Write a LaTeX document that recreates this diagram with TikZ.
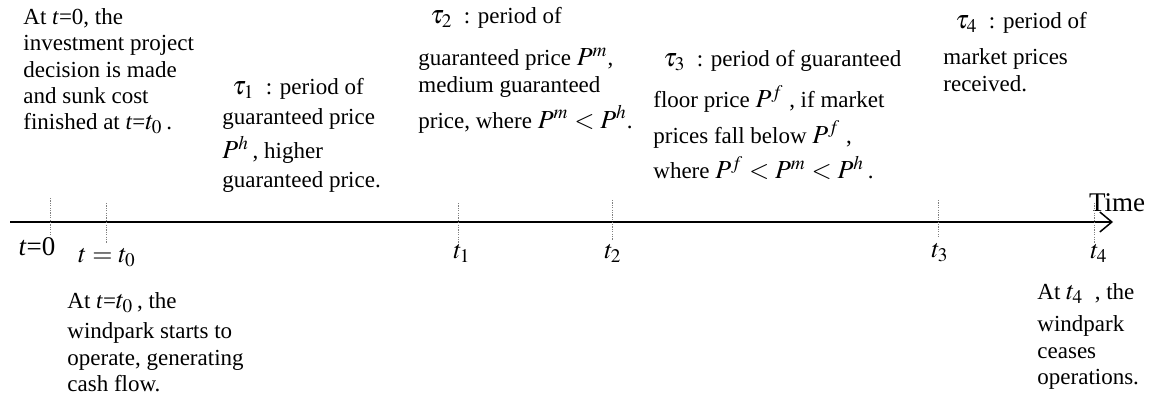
\documentclass[tikz,border=0pt]{standalone}
\usepackage{mathptmx}
\usepackage[no-math]{fontspec}
\setmainfont{Liberation Serif}
\usetikzlibrary{arrows.meta,positioning}

\newcommand{\eqpart}[1]{{\fontsize{13}{13}\selectfont$#1$}}

\tikzset{
  note/.style={align=left, anchor=north west, inner sep=0pt, font=\fontsize{11.5}{13.2}\selectfont},
  ticklabel/.style={inner sep=0pt, font=\fontsize{13}{13}\selectfont},
  tickline/.style={gray, line width=0.5pt, dash pattern=on 0.6pt off 0.6pt},
  timeline/.style={line width=0.75pt, -{Straight Barb[length=6pt,width=10pt]}}
}

\begin{document}
\begin{tikzpicture}[x=0.5pt, y=-0.5pt]
  \useasboundingbox (0,0) rectangle (1150,407);
  % time axis
  \coordinate (axisstart) at (10,222);
  \coordinate (axisend) at (1113,222);
  \draw[timeline] (axisstart) -- (axisend);
  \node[ticklabel, font=\fontsize{13.5}{13}\selectfont] (timelbl) at (1117,203) {Time};
  % dotted marks on the axis
  \foreach \name/\x/\ya/\yb in {z/50/198/235, a/106/203/243, b/458/203/243,
      c/612/200/240, d/938/200/238, e/1094/203/243} {
    \coordinate (\name top) at (\x,\ya);
    \coordinate (\name bot) at (\x,\yb);
    \draw[tickline] (\name top) -- (\name bot);
  }
  % labels under the marks
  \node[ticklabel, font=\fontsize{13.5}{13}\selectfont] (lblz) at (37,247) {\textit{t}=0};
  \node[ticklabel] (lbla) at (107,258) {$t=t_{0}$};
  \node[ticklabel] (lblb) at (462,253) {$t_{1}$};
  \node[ticklabel] (lblc) at (613,253) {$t_{2}$};
  \node[ticklabel] (lbld) at (940,253) {$t_{3}$};
  \node[ticklabel] (lble) at (1099,253) {$t_{4}$};
  % notes above the axis
  \node[note] (decision) at (23,8) {At \textit{t}=0, the\\ investment project\\
    decision is made\\ and sunk cost\\ finished at \textit{t}=\eqpart{t_{0}}\,.};
  \node[note] (tauone) at (222,78) {\hspace{5pt}\eqpart{\tau_{1}}\ \ : period of\\[2pt]
    guaranteed price\\[2pt] \eqpart{P^{h}}\,, higher\\[1pt] guaranteed price.};
  \node[note] (tautwo) at (418,7) {\hspace{6pt}\eqpart{\tau_{2}}\ \ : period of\\[8pt]
    guaranteed price \eqpart{P^{m}},\\ medium guaranteed\\[3pt]
    price, where \eqpart{P^{m}<P^{h}}.};
  \node[note] (tauthree) at (653,50) {\hspace{5pt}\eqpart{\tau_{3}}\ \ : period of guaranteed\\[6pt]
    floor price \eqpart{P^{f}}\ , if market\\[3pt] prices fall below \eqpart{P^{f}}\ ,\\[3pt]
    where \eqpart{P^{f}<P^{m}<P^{h}}\,.};
  \node[note] (taufour) at (943,12) {\hspace{6pt}\eqpart{\tau_{4}}\ \ : period of\\[5pt]
    market prices\\ received.};
  % notes below the axis
  \node[note] (start) at (67,292) {At \textit{t}=\eqpart{t_{0}}\,, the\\[2pt]
    windpark starts to\\ operate, generating\\ cash flow.};
  \node[note] (cease) at (1037,283) {At \eqpart{t_{4}}\ \ , the\\[3pt] windpark\\
    ceases\\ operations.};
\end{tikzpicture}
\end{document}
